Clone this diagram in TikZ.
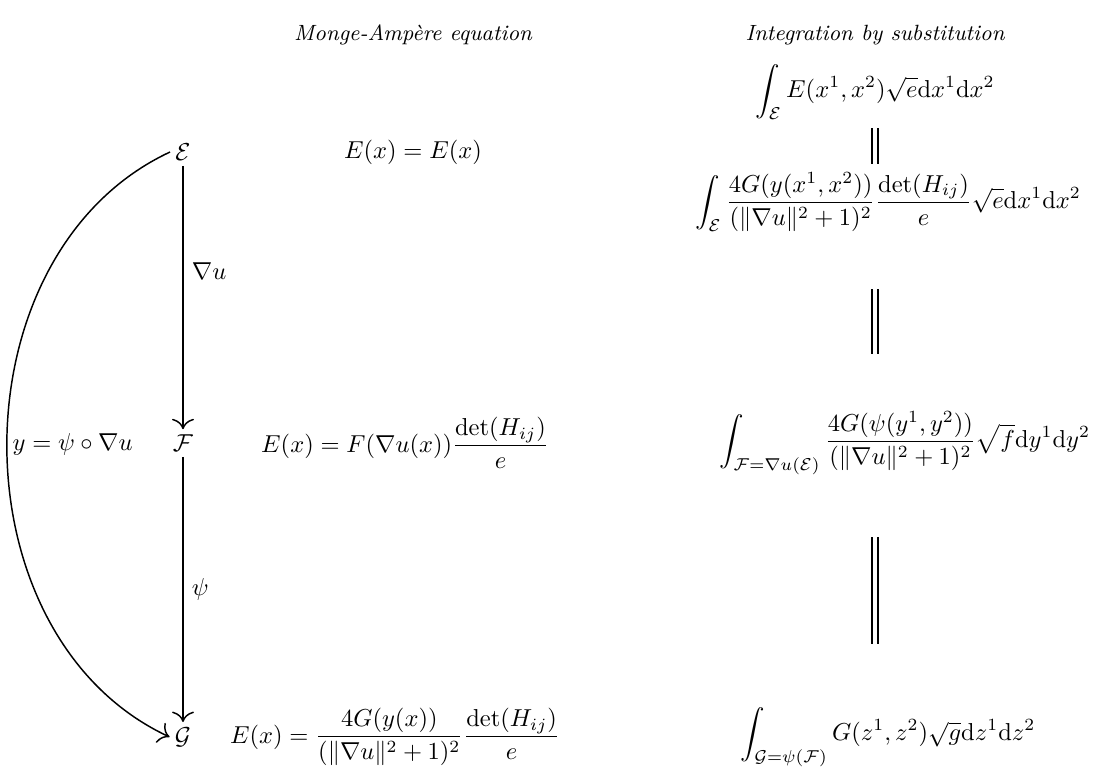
\documentclass[tikz,border=0pt]{standalone}
\usepackage{amsmath,amssymb,amsfonts}
\usepackage{tikz}
\usetikzlibrary{arrows.meta,positioning,calc}

\begin{document}
\begin{tikzpicture}[
    x=0.01435cm, y=-0.01435cm,
    title/.style={font=\small\itshape, align=center, inner sep=0pt},
    space/.style={inner sep=2pt},
    map/.style={-{To[length=1.5mm]}, semithick},
    equal/.style={double, double distance=2pt, semithick}
]
    \useasboundingbox (0,0) rectangle (1094,772);

    % column titles
    \node (t1) [title] at (413,35) {Monge-Amp\`ere equation};
    \node (t2) [title] at (875,35) {Integration by substitution};

    % the three spaces
    \node (E) [space] at (183,152) {$\mathcal{E}$};
    \node (F) [space] at (183,443) {$\mathcal{F}$};
    \node (G) [space] at (183,737) {$\mathcal{G}$};

    \draw [map] (E) -- node[right, pos=0.4] {$\nabla u$} (F);
    \draw [map] (F) -- node[right] {$\psi$} (G);
    \draw [map] (E.west) to[out=205, in=155, looseness=1.05]
        node[midway, right, inner sep=2pt] {$y=\psi\circ\nabla u$} (G.west);

    % Monge-Ampere column
    \node (m1) at (413,152) {$E(x)=E(x)$};
    \node (m2) at (405,443) {$\displaystyle E(x)=F(\nabla u(x))\frac{\det(H_{ij})}{e}$};
    \node (m3) at (395,737) {$\displaystyle E(x)=\frac{4G(y(x))}{(\|\nabla u\|^2+1)^2}\frac{\det(H_{ij})}{e}$};

    % substitution column
    \node (i1) at (875,92) {$\displaystyle\int_{\mathcal{E}} E(x^1,x^2)\sqrt{e}\mathrm{d}x^1\mathrm{d}x^2$};
    \node (i2) at (888,202) {$\displaystyle\int_{\mathcal{E}} \frac{4G(y(x^1,x^2))}{(\|\nabla u\|^2+1)^2}\frac{\det(H_{ij})}{e}\sqrt{e}\mathrm{d}x^1\mathrm{d}x^2$};
    \node (i3) at (905,443) {$\displaystyle\int_{\mathcal{F}=\nabla u(\mathcal{E})} \frac{4G(\psi(y^1,y^2))}{(\|\nabla u\|^2+1)^2}\sqrt{f}\mathrm{d}y^1\mathrm{d}y^2$};
    \node (i4) at (888,737) {$\displaystyle\int_{\mathcal{G}=\psi(\mathcal{F})} G(z^1,z^2)\sqrt{g}\mathrm{d}z^1\mathrm{d}z^2$};

    \draw [equal] (i1.south -| t2) -- (i2.north -| t2);
    \draw [equal, shorten <=20pt, shorten >=20pt] (i2.south -| t2) -- (i3.north -| t2);
    \draw [equal, shorten <=22pt, shorten >=22pt] (i3.south -| t2) -- (i4.north -| t2);
\end{tikzpicture}
\end{document}
